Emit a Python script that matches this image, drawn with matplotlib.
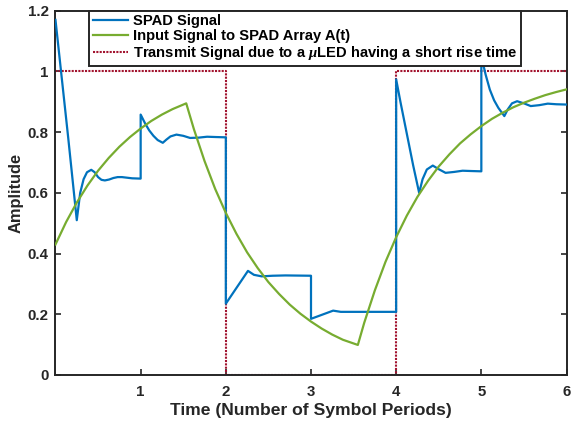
import numpy as np
import matplotlib
matplotlib.use("Agg")
import matplotlib.pyplot as plt

plt.rcParams['font.family'] = ['Liberation Sans', 'DejaVu Sans']
plt.rcParams['font.weight'] = 'bold'
plt.rcParams['mathtext.fontset'] = 'custom'
plt.rcParams['mathtext.it'] = 'Liberation Serif:italic'

# SPAD signal
t_spad = [0.00, 0.05, 0.10, 0.15, 0.20, 0.25, 0.29, 0.33, 0.37, 0.42, 0.46, 0.50,
          0.54, 0.58, 0.63, 0.68, 0.73, 0.78, 0.84, 0.90, 1.00,
          1.00, 1.05, 1.10, 1.15, 1.20, 1.26, 1.30, 1.35, 1.42, 1.50, 1.58, 1.68,
          1.78, 1.88, 2.00,
          2.00, 2.26, 2.33, 2.42, 2.55, 2.70, 3.00,
          3.00, 3.26, 3.35, 3.50, 4.00,
          4.00, 4.05, 4.10, 4.15, 4.20, 4.27, 4.31, 4.36, 4.43, 4.50, 4.58, 4.68,
          4.78, 4.88, 5.00,
          5.00, 5.05, 5.10, 5.15, 5.20, 5.27, 5.31, 5.36, 5.42, 5.50, 5.58, 5.68,
          5.78, 5.88, 6.00]
y_spad = [1.17, 1.04, 0.91, 0.78, 0.645, 0.51, 0.60, 0.645, 0.668, 0.676, 0.668, 0.652,
          0.643, 0.641, 0.644, 0.649, 0.652, 0.652, 0.650, 0.648, 0.647,
          0.858, 0.830, 0.806, 0.788, 0.774, 0.765, 0.775, 0.786, 0.792, 0.788, 0.781, 0.782,
          0.785, 0.784, 0.783,
          0.235, 0.343, 0.330, 0.325, 0.327, 0.328, 0.327,
          0.185, 0.212, 0.208, 0.208, 0.208,
          0.974, 0.90, 0.83, 0.76, 0.69, 0.60, 0.645, 0.677, 0.690, 0.678, 0.666, 0.669,
          0.673, 0.672, 0.671,
          1.05, 0.99, 0.94, 0.905, 0.88, 0.853, 0.875, 0.895, 0.902, 0.895, 0.886, 0.889,
          0.894, 0.892, 0.891]

# input signal to SPAD array A(t)
t_in = [0.0, 0.125, 0.25, 0.375, 0.5, 0.625, 0.75, 0.875, 1.0, 1.125, 1.25, 1.375, 1.535,
        1.625, 1.75, 1.875, 2.0, 2.125, 2.25, 2.375, 2.5, 2.625, 2.75, 2.875, 3.0,
        3.125, 3.25, 3.375, 3.55,
        3.625, 3.75, 3.875, 4.0, 4.125, 4.25, 4.375, 4.5, 4.625, 4.75, 4.875, 5.0,
        5.125, 5.25, 5.375, 5.5, 5.625, 5.75, 5.875, 6.0]
y_in = [0.430, 0.504, 0.568, 0.624, 0.673, 0.715, 0.752, 0.784, 0.812, 0.837, 0.858, 0.876, 0.895,
        0.810, 0.705, 0.613, 0.534, 0.465, 0.404, 0.352, 0.306, 0.267, 0.232, 0.202, 0.176,
        0.153, 0.133, 0.116, 0.099,
        0.172, 0.279, 0.373, 0.454, 0.525, 0.587, 0.640, 0.687, 0.727, 0.763, 0.793, 0.820,
        0.844, 0.864, 0.882, 0.897, 0.910, 0.922, 0.932, 0.941]

# transmit signal (on/off)
t_tx = [0, 2, 2, 4, 4, 6]
y_tx = [1, 1, 0, 0, 1, 1]

labels = ['SPAD Signal', 'Input Signal to SPAD Array A(t)',
          r'Transmit Signal due to a $\mu$LED having a short rise time']

fig = plt.figure(figsize=(5.72, 4.24), dpi=100)
ax = fig.add_axes([0.0970, 0.1156, 0.8934, 0.859])

ax.plot(t_spad, y_spad, color='#0072BD', lw=1.6, label=labels[0], zorder=3)
ax.plot(t_in, y_in, color='#77AC30', lw=1.6, label=labels[1], zorder=3)
ax.plot(t_tx, y_tx, color='#A2142F', lw=1.5, ls=(0, (1, 0.6)), label=labels[2], zorder=2)

ax.set_xlim(0, 6)
ax.set_ylim(0, 1.2)
ax.set_xticks([1, 2, 3, 4, 5, 6])
ax.set_yticks([0, 0.2, 0.4, 0.6, 0.8, 1.0, 1.2])
ax.set_yticklabels(['0', '0.2', '0.4', '0.6', '0.8', '1', '1.2'])
ax.tick_params(direction='in', length=4, width=1.2, top=True, right=True,
               labelsize=10.8, colors='#262626', pad=5)
ax.tick_params(axis='x', pad=7)
for s in ax.spines.values():
    s.set_linewidth(1.4)
    s.set_color('#262626')

ax.set_xlabel('Time (Number of Symbol Periods)', fontsize=12.6, fontweight='bold',
              color='#262626', labelpad=3)
ax.set_ylabel('Amplitude', fontsize=11.8, fontweight='bold', color='#262626', labelpad=3)

leg = ax.legend(loc='upper left', bbox_to_anchor=(0.0656, 1.0), borderaxespad=0,
                fancybox=False, framealpha=1, edgecolor='#262626',
                prop={'weight': 'bold', 'size': 10.6}, handlelength=2.4,
                handletextpad=0.35, labelspacing=0.05, borderpad=0.25)
leg.get_frame().set_linewidth(1.4)
leg.set_zorder(5)

fig.savefig('out.png', dpi=100)
